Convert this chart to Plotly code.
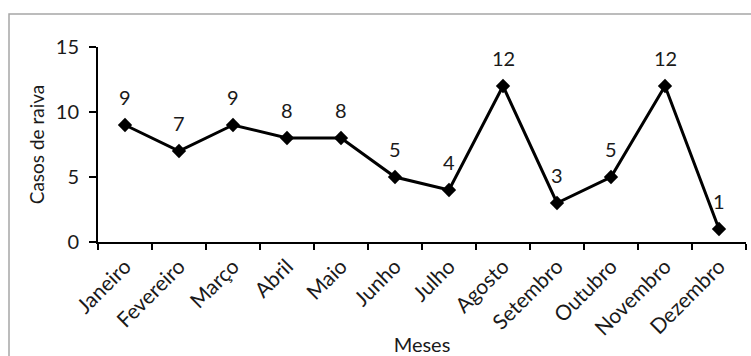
import plotly.graph_objects as go

# Monthly rabies cases
meses = ["Janeiro", "Fevereiro", "Março", "Abril", "Maio", "Junho",
         "Julho", "Agosto", "Setembro", "Outubro", "Novembro", "Dezembro"]
casos = [9, 7, 9, 8, 8, 5, 4, 12, 3, 5, 12, 1]
y_ticks = [0, 5, 10, 15]

FONT = "Lato, 'Open Sans', sans-serif"
INK = "#1a1a1a"

W, H = 751, 356
ML, MR, MT, MB = 98, 5, 47, 114
pw, ph = W - ML - MR, H - MT - MB

fig = go.Figure()
fig.add_trace(go.Scatter(
    x=meses, y=casos,
    mode="lines+markers",
    line=dict(color="black", width=3),
    marker=dict(symbol="diamond", size=11, color="black"),
    hoverinfo="skip",
))

# value labels above each point
for m, v in zip(meses, casos):
    fig.add_annotation(x=m, y=v, text=str(v), showarrow=False,
                       yshift=28, font=dict(family=FONT, size=20, color=INK))

# outer chart frame (left and top edges show in view)
fx0 = (9 - ML) / pw
fy1 = (H - MB - 14) / ph
fig.add_shape(type="rect", xref="paper", yref="paper",
              x0=fx0, x1=(W + 20 - ML) / pw, y0=-(MB + 20) / ph, y1=fy1,
              line=dict(color="#a6a6a6", width=1.5), layer="below")

fig.update_layout(
    width=W, height=H,
    margin=dict(l=ML, r=MR, t=MT, b=MB),
    paper_bgcolor="white", plot_bgcolor="white",
    showlegend=False,
    font=dict(family=FONT, color=INK),
)
fig.update_xaxes(
    type="category", range=[-0.5, 11.5], automargin=False,
    showline=True, linecolor="black", linewidth=2,
    ticks="outside", ticklen=6, tickwidth=1.5, tickcolor="black",
    tickson="boundaries",
    tickangle=-45, tickfont=dict(family=FONT, size=21, color=INK),
    ticklabelstandoff=2,
    showgrid=False, zeroline=False,
    title=dict(text="Meses", font=dict(family=FONT, size=20, color=INK), standoff=6),
)
fig.update_yaxes(
    range=[0, 15], tickvals=y_ticks, automargin=False,
    showline=True, linecolor="black", linewidth=2,
    ticks="outside", ticklen=7, tickwidth=1.5, tickcolor="black",
    tickfont=dict(family=FONT, size=20, color=INK),
    ticklabelstandoff=6,
    showgrid=False, zeroline=False,
    title=dict(text="Casos de raiva", font=dict(family=FONT, size=19, color=INK), standoff=6),
)

fig.write_html("out.html")
